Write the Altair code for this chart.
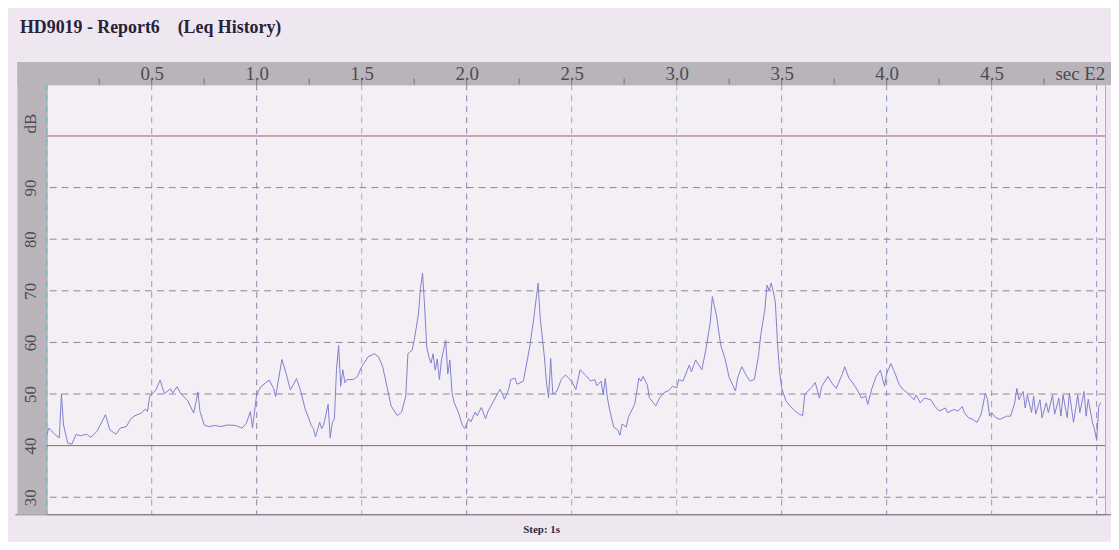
import altair as alt
import pandas as pd

# ---- data (seconds, Leq dB) ----
seconds = [0, 1, 4, 6, 7, 8, 10, 12, 14, 16, 19, 21, 24, 28, 30, 33, 35, 38, 40, 42, 45, 47, 48, 49,
           52, 54, 56, 59, 60, 62, 64, 67, 70, 72, 73, 75, 77, 80, 83, 86, 90, 93, 95, 97, 98,
           100, 102, 104, 106, 108, 109, 112, 114, 116, 119, 121, 123,
           126, 127, 128, 130, 131, 132, 134, 135, 136, 137, 138, 139, 140, 141, 142, 143, 146, 148,
           150, 151, 153, 156, 158, 160, 162, 164, 167, 169, 171, 172, 174, 175, 177, 178, 179, 180,
           181, 182, 183, 184, 185, 186, 187, 188, 190, 191, 192, 193, 194, 196, 198, 199, 201, 202,
           204, 205, 207, 209, 210, 212, 215, 216, 218, 220, 221, 223, 224, 227, 228, 230, 232, 234,
           235, 237, 238, 239, 240, 241, 243,
           245, 247, 250, 252, 254, 257, 259, 261, 262, 264, 265, 266, 267, 268, 270, 272, 273, 274,
           276, 277, 280, 282, 283, 284, 286, 287, 290, 292, 294, 296, 298, 300, 301, 303, 306, 307,
           309, 312, 314, 316, 317, 319, 321, 323, 325, 328, 329, 331, 333, 335, 337, 339, 340, 342,
           343, 344, 345, 346, 347, 348, 349, 350, 352, 354, 356, 358, 360, 361, 364, 366,
           368, 369, 372, 374, 376, 379, 380, 382, 384, 386, 388, 390, 391, 393, 395, 397, 399, 400,
           402, 404, 406, 408, 410, 413, 414, 416, 418, 421, 423, 425, 428, 429, 432, 434, 436, 437,
           439, 441, 443, 445, 447, 448, 449, 450, 452, 454, 457, 459, 461, 462, 463, 465, 466, 467,
           469, 470, 471, 473, 474, 476, 477, 479, 480, 482, 483, 484, 486, 487, 489, 491, 492, 494,
           495, 496, 498, 499, 500, 501, 502]
leq_db = [42.1, 43.4, 42.1, 41.5, 50.0, 44.0, 40.5, 40.3, 42.2, 41.9, 42.2, 41.6, 42.8, 46.0, 43.1,
          42.2, 43.4, 43.7, 45.2, 45.8, 46.3, 47.1, 46.6, 49.5,
          50.8, 52.7, 50.1, 51.0, 50.2, 51.4, 50.0, 48.8, 46.3, 50.4, 46.6, 44.0, 43.7, 43.9, 43.7,
          44.0, 43.9, 43.4, 44.3, 46.6, 43.4,
          50.0, 51.4, 52.1, 52.7, 51.1, 49.5, 56.7, 54.0, 50.8, 53.0, 50.5, 47.2,
          43.9, 43.3, 41.7, 44.5, 43.3, 44.2, 48.0, 41.5, 44.5, 45.2, 54.7, 59.4, 51.5, 54.7, 52.2,
          52.8, 52.8, 53.4,
          55.3, 55.9, 57.2, 57.8, 57.2, 55.3, 51.5, 47.7, 45.8, 46.5, 49.6, 57.8, 58.5, 60.4, 65.4,
          70.5, 73.4, 66.7,
          59.1, 57.2, 56.0, 57.8, 54.6, 56.8, 52.8, 56.6, 60.4, 53.9, 56.6, 50.3, 48.4, 46.5, 43.9,
          43.3, 45.2, 44.6,
          46.5, 45.8, 47.4, 45.2, 46.5, 48.0, 50.3, 50.9, 49.0, 50.9, 52.8, 53.1, 51.9, 52.5, 54.7,
          59.1, 64.8, 71.5,
          64.8, 57.2, 52.2, 49.3, 56.9, 50.0, 50.6,
          52.8, 53.7, 52.5, 50.9, 54.7, 53.5, 52.5, 52.8, 51.6, 52.5, 49.9, 53.0, 49.3, 47.1, 43.6,
          43.0, 42.0, 44.2,
          43.6, 45.5, 48.0, 53.1, 52.5, 53.4, 51.8, 49.3, 47.7, 49.3, 50.3, 50.6, 51.5, 51.2, 52.8,
          52.5, 55.6, 54.3,
          56.6, 54.7, 58.8, 63.9, 68.9, 65.1, 59.4, 56.9, 53.2, 50.6, 53.1, 55.3, 53.7, 52.5, 52.8,
          57.5, 61.3, 66.4,
          71.1, 70.1, 71.5, 69.9, 67.7, 60.1, 54.4, 51.2, 48.7, 47.7, 46.8, 46.2, 45.8, 49.9, 51.2,
          52.2,
          49.2, 51.4, 53.4, 52.1, 51.1, 54.0, 55.3, 53.1, 52.1, 50.8, 49.2, 49.6, 48.0, 51.1, 53.4,
          54.6, 51.5, 54.0,
          55.9, 54.0, 51.8, 50.8, 50.2, 48.9, 49.8, 48.3, 49.2, 48.9, 47.6, 46.7, 47.3, 46.4, 47.0,
          46.7, 47.6, 46.4,
          45.4, 45.1, 44.5, 46.1, 50.2, 49.0, 45.7, 46.4, 45.4, 45.1, 45.7, 45.7, 48.3, 51.1, 48.9,
          50.5, 47.3, 49.8,
          46.4, 49.6, 46.1, 48.9, 45.4, 48.3, 46.4, 49.8, 46.1, 49.2, 45.7, 49.8, 45.4, 50.2, 44.5,
          49.8, 46.4, 50.5,
          45.7, 49.0, 44.5, 43.2, 41.0, 47.6, 48.3]

# axis / grid values
x_label_values = [50, 100, 150, 200, 250, 300, 350, 400, 450, 492]   # 492 -> "sec E2"
x_tick_values = [25 * i for i in range(1, 20)]
v_grid = [0, 50, 100, 150, 200, 250, 300, 350, 400, 450, 500]
v_grid_colors = ["#6fb3c0", "#c487b6", "#8e7fa6", "#86bccb", "#9677ad", "#c994b4",
                 "#a9c3b4", "#c77fae", "#8595b6", "#c485b4", "#a486c4"]
h_dashed = [30, 50, 60, 70, 80, 90]
h_solid = [40, 100]
y_label_values = [30, 40, 50, 60, 70, 80, 90, 102.5]                 # 102.5 -> "dB"

line_df = pd.DataFrame({"t": seconds, "db": leq_db})
vgrid_df = pd.DataFrame({"t": v_grid, "c": v_grid_colors})
hdash_df = pd.DataFrame({"v": h_dashed})
hsolid_df = pd.DataFrame({"v": h_solid})
tick_df = pd.DataFrame({"t": x_tick_values})

X_DOMAIN = [0, 504]
Y_DOMAIN = [26.7, 110]
W, H = 1066, 433

xs = alt.Scale(domain=X_DOMAIN, nice=False, zero=False)
ys = alt.Scale(domain=Y_DOMAIN, nice=False, zero=False)
# same mapping, but the range is stretched so the frame bands run into the corners
xs_frame = alt.Scale(domain=X_DOMAIN, nice=False, zero=False, range=[-30, W + 6])
xs_bottom = alt.Scale(domain=X_DOMAIN, nice=False, zero=False, range=[-32, W + 6])
ys_frame = alt.Scale(domain=Y_DOMAIN, nice=False, zero=False, range=[H, -23])

BAND = "#b8b4b9"
SERIF = "Liberation Serif"
LABEL_COLOR = "#4f4a52"

top_band_axis = alt.Axis(
    orient="top", labels=False, ticks=False, grid=False, domain=True,
    domainColor=BAND, domainWidth=23, offset=11.5, title=None)

left_band_axis = alt.Axis(
    orient="left", labels=False, ticks=False, grid=False, domain=True,
    domainColor=BAND, domainWidth=30, offset=15, title=None)

bottom_axis = alt.Axis(
    orient="bottom", ticks=False, labels=False, grid=False, domain=True,
    domainColor="#6c6870", domainWidth=1, title="Step: 1s",
    titleFont=SERIF, titleFontSize=11, titleFontWeight="bold", titleColor="#2f2a38",
    titleX=498, titleY=15, titleAlign="center", titleBaseline="middle")

top_label_axis = alt.Axis(
    orient="top", values=x_label_values,
    labelExpr="datum.value > 480 ? 'sec E2' : format(datum.value / 100, '.1f')",
    ticks=False, tickSize=0, grid=False, domain=False,
    labelFont=SERIF, labelFontSize=19, labelColor=LABEL_COLOR,
    labelBaseline="alphabetic", labelPadding=4.7, labelFlush=False,
    labelOverlap=False, title=None)

left_label_axis = alt.Axis(
    orient="left", values=y_label_values,
    labelExpr="datum.value > 100 ? 'dB' : datum.label",
    ticks=False, tickSize=0, grid=False, domain=False,
    labelAngle=270, labelAlign="center", labelBaseline="middle", labelPadding=16,
    labelFont=SERIF, labelFontSize=17, labelColor=LABEL_COLOR,
    labelFlush=False, labelOverlap=False, title=None)

# invisible carriers for the grey frame bands and the bottom rule
frame_top = alt.Chart(tick_df).mark_rule(opacity=0).encode(
    x=alt.X("t:Q", scale=xs_frame, axis=top_band_axis))
frame_left = alt.Chart(hsolid_df).mark_rule(opacity=0).encode(
    y=alt.Y("v:Q", scale=ys_frame, axis=left_band_axis))
frame_bottom = alt.Chart(tick_df).mark_rule(opacity=0).encode(
    x=alt.X("t:Q", scale=xs_bottom, axis=bottom_axis))

vgrid = alt.Chart(vgrid_df).mark_rule(strokeDash=[6, 5], strokeWidth=1).encode(
    x=alt.X("t:Q", scale=xs, axis=None),
    color=alt.Color("c:N", scale=None))

hsolid = alt.Chart(hsolid_df).mark_rule(strokeWidth=1, color="#a2596b").encode(
    y=alt.Y("v:Q", scale=ys, axis=None))

ticks = alt.Chart(tick_df).mark_rule(strokeWidth=1, color="#77737a").encode(
    x=alt.X("t:Q", scale=xs, axis=top_label_axis),
    y=alt.value(0), y2=alt.value(-6))

hdash = alt.Chart(hdash_df).mark_rule(strokeDash=[7, 5], strokeWidth=1, color="#8f8794").encode(
    y=alt.Y("v:Q", scale=ys, axis=left_label_axis))

line = alt.Chart(line_df).mark_line(strokeWidth=1, color="#7f80cc").encode(
    x=alt.X("t:Q", scale=xs, axis=None),
    y=alt.Y("db:Q", scale=ys, axis=None))

chart = alt.layer(
    frame_top, frame_left, frame_bottom, vgrid, hsolid, ticks, hdash, line
).resolve_scale(
    x="independent", y="independent"
).resolve_axis(
    x="independent", y="independent"
).properties(
    width=W, height=H,
    padding={"left": 39, "top": 75, "right": 6, "bottom": 26},
    autosize=alt.AutoSizeParams(type="none"),
    background="#eee7ef",
    title=alt.TitleParams(
        text="HD9019 - Report6\u00a0\u00a0\u00a0 (Leq History)",
        anchor="start", frame="group", font=SERIF, fontSize=18,
        fontWeight="bold", color="#27223a", baseline="alphabetic",
        offset=14, dx=-27),
).configure_view(fill="#f4eff5", stroke="#c9a3c4", strokeWidth=1)

chart.save("out.html", embed_options={"renderer": "svg", "actions": False})
